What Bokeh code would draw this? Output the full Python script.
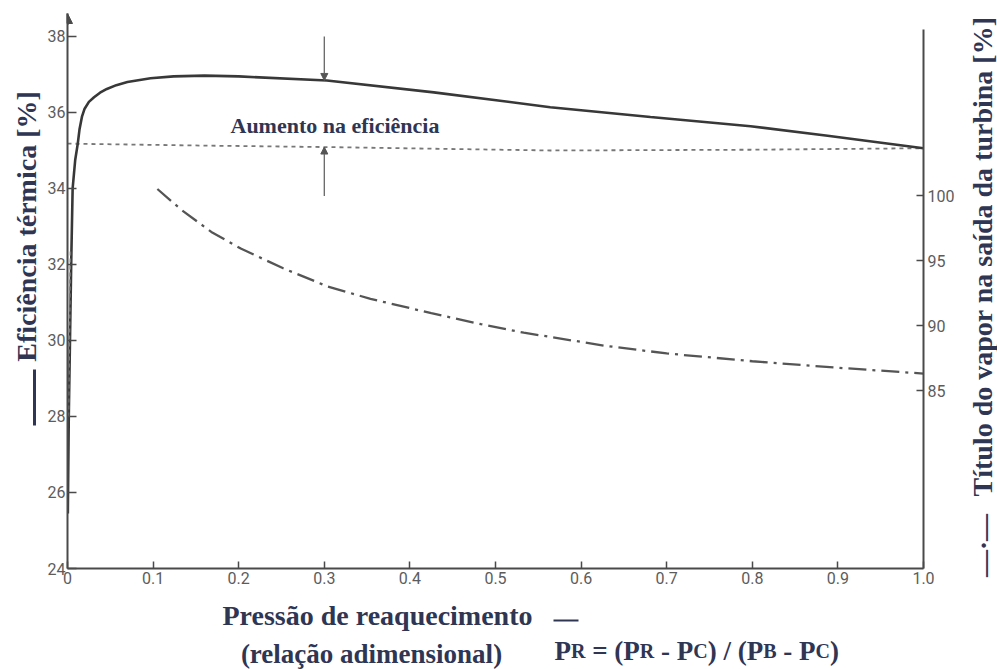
import math
import numpy as np
from bokeh.plotting import figure
from bokeh.layouts import row, column
from bokeh.models import (Range1d, LinearAxis, FixedTicker, CustomJSTickFormatter,
                          Label, Arrow, NormalHead)
from bokeh.core.properties import value
from bokeh.embed import file_html
from bokeh.resources import INLINE

# ---------------- data ----------------
# reheat pressure ratio (x) and thermal efficiency [%] (left axis)
x_eff = [0.0004, 0.0015, 0.0043, 0.0060, 0.009, 0.012, 0.014, 0.017, 0.020, 0.025,
         0.031, 0.038, 0.046, 0.057, 0.070, 0.097, 0.124, 0.160, 0.200, 0.303,
         0.428, 0.564, 0.681, 0.798, 0.888, 1.0]
y_eff = [25.45, 28.0, 32.0, 34.0, 34.75, 35.18, 35.55, 35.9, 36.1, 36.28,
         36.4, 36.52, 36.62, 36.72, 36.8, 36.9, 36.95, 36.97, 36.95, 36.84,
         36.53, 36.14, 35.88, 35.64, 35.39, 35.06]

# efficiency without reheat (dotted reference line)
x_ref = [0.0, 0.156, 0.303, 0.564, 0.798, 1.0]
y_ref = [35.18, 35.13, 35.09, 35.0, 35.02, 35.06]

# steam quality at turbine exit [%] (right axis)
x_qual = [0.105, 0.133, 0.168, 0.203, 0.252, 0.304, 0.354, 0.425, 0.483, 0.533,
          0.627, 0.700, 0.800, 0.900, 1.0]
y_qual = [100.5, 98.9, 97.2, 95.9, 94.4, 93.0, 92.05, 90.95, 90.1, 89.45,
          88.45, 87.85, 87.25, 86.75, 86.3]

# short dashed trace next to the left axis (left-axis units)
x_qual_edge = [0.0012, 0.0035]
y_qual_edge = [28.0, 32.4]

# "Aumento na eficiência" arrows
arrow_x = 0.3
arrow_top = 38.0
arrow_bottom = 33.8

x_ticks = [0, 0.1, 0.2, 0.3, 0.4, 0.5, 0.6, 0.7, 0.8, 0.9, 1.0]
x_tick_labels = ["0", "0.1", "0.2", "0.3", "0.4", "0.5", "0.6", "0.7", "0.8", "0.9", "1.0"]
left_ticks = [24, 26, 28, 30, 32, 34, 36, 38]
right_ticks = [85, 90, 95, 100]

# ---------------- page geometry (pixels) ----------------
W_PAGE, H_PAGE = 997, 669
LEFT_W = 42            # strip holding the left title
RIGHT_X = 961          # strip holding the right title starts here
MAIN_H = 592           # main chart height; text strip below
FX0, FX1 = 67.0, 923.0
FY_TOP, FY_BOT = 13.0, 568.0
Y_TOP_VAL = 38.605
PX_PER_LEFT = (FY_BOT - FY_TOP) / (Y_TOP_VAL - 24.0)
PX_PER_RIGHT = 13.0
R_AT_100 = 195.0


def dx(px):
    return (px - FX0) / (FX1 - FX0)


def dy(py):
    return 24.0 + (FY_BOT - py) / PX_PER_LEFT


r_bot = 100.0 - (FY_BOT - R_AT_100) / PX_PER_RIGHT
r_top = 100.0 + (R_AT_100 - FY_TOP) / PX_PER_RIGHT
r_axis_top = 100.0 + (R_AT_100 - 29.0) / PX_PER_RIGHT

NAVY = "#2f3654"
AX = "#4a4a4a"
TICKFONT = "Roboto"
SERIF = "Liberation Serif"

main_w = RIGHT_X - LEFT_W
p = figure(width=main_w, height=MAIN_H, output_backend="svg", toolbar_location=None,
           x_range=Range1d(0, 1), y_range=Range1d(24, Y_TOP_VAL),
           min_border_left=int(FX0 - LEFT_W), min_border_right=int(RIGHT_X - FX1),
           min_border_top=int(FY_TOP), min_border_bottom=int(MAIN_H - FY_BOT))
p.extra_y_ranges = {"qual": Range1d(r_bot, r_top)}
p.outline_line_color = None
p.background_fill_color = "white"
p.border_fill_color = "white"
p.xgrid.visible = False
p.ygrid.visible = False

xa = p.xaxis[0]
xa.ticker = FixedTicker(ticks=x_ticks)
xa.formatter = CustomJSTickFormatter(
    args=dict(xt=x_ticks, xl=x_tick_labels),
    code="const i = xt.findIndex(t => Math.abs(t - tick) < 1e-9); return i >= 0 ? xl[i] : '';")
ya = p.yaxis[0]
ya.ticker = FixedTicker(ticks=left_ticks)
ra = LinearAxis(y_range_name="qual", ticker=FixedTicker(ticks=right_ticks),
                bounds=(r_bot, r_axis_top))
p.add_layout(ra, "right")

for ax in (xa, ya, ra):
    ax.axis_line_color = AX
    ax.axis_line_width = 2
    ax.major_tick_line_color = AX
    ax.major_tick_line_width = 1.5
    ax.major_tick_out = 0
    ax.minor_tick_in = 0
    ax.minor_tick_out = 0
    ax.major_label_text_font = TICKFONT
    ax.major_label_text_font_size = "16px"
    ax.major_label_text_color = "#5c5c5c"
xa.major_tick_in = 7
xa.major_label_standoff = 3
ya.major_tick_in = 9
ya.major_label_standoff = 2
ra.major_tick_in = 7
ra.major_label_standoff = 4

# curves
p.line(x_ref, y_ref, line_color="#777777", line_width=1.8, line_dash="4 4")
p.line(x_eff, y_eff, line_color="#383838", line_width=2.6)
p.line(x_qual, y_qual, y_range_name="qual", line_color="#555555", line_width=2.3,
       line_dash="18 6 3 6")
p.line(x_qual_edge, y_qual_edge, line_color="#777777", line_width=1.5, line_dash="4 3")

# arrows marking the efficiency gain
eff_at_arrow = float(np.interp(arrow_x, x_eff, y_eff))
ref_at_arrow = float(np.interp(arrow_x, x_ref, y_ref))
for y0, y1 in ((arrow_top, eff_at_arrow), (arrow_bottom, ref_at_arrow)):
    p.add_layout(Arrow(end=NormalHead(size=7, fill_color="#555555", line_color="#555555"),
                       x_start=arrow_x, y_start=y0, x_end=arrow_x, y_end=y1,
                       line_color="#666666", line_width=1.3))
# arrow head on top of the left axis
p.add_layout(Arrow(end=NormalHead(size=10, fill_color=AX, line_color=AX),
                   x_start=0, y_start=Y_TOP_VAL - 0.3, x_end=0, y_end=Y_TOP_VAL,
                   line_color=AX, line_width=2))

p.add_layout(Label(x=dx(230), y=dy(125), text="Aumento na eficiência",
                   text_font=SERIF, text_font_style="bold", text_font_size="22px",
                   text_color=NAVY, text_align="left", text_baseline="middle"))


# ---------------- text strips (coordinates = page pixels) ----------------
def strip(x0, x1, y0, y1, xr=None):
    f = figure(width=int(x1 - x0), height=int(y1 - y0), output_backend="svg",
               toolbar_location=None, x_axis_type=None, y_axis_type=None,
               x_range=Range1d(*(xr or (x0, x1))), y_range=Range1d(y1, y0),
               min_border=0, min_border_left=0, min_border_right=0,
               min_border_top=0, min_border_bottom=0)
    f.outline_line_color = None
    f.background_fill_color = "white"
    f.border_fill_color = "white"
    return f


def txt(f, s, x, y, size, angle=0.0, align="center", baseline="middle"):
    f.text(x=[x], y=[y], text=[s], angle=angle, text_font=value(SERIF),
           text_font_style="bold", text_font_size=f"{size}px", text_color=NAVY,
           text_align=align, text_baseline=baseline)


left = strip(0, LEFT_W, 0, H_PAGE)
txt(left, "Eficiência térmica [%]", 26, 226, 28, angle=math.pi / 2)
# legend key: solid line
left.line(x=[34, 34], y=[369, 425], line_color=NAVY, line_width=3)

right = strip(RIGHT_X, W_PAGE, 0, H_PAGE)
txt(right, "Título do vapor na saída da turbina [%]", 982, 256, 28, angle=math.pi / 2)
txt(right, "—·—", 983, 545, 27, angle=math.pi / 2)

# the column aligns this strip's frame with the chart frame (FX0..FX1)
bottom = strip(LEFT_W, RIGHT_X, MAIN_H, H_PAGE, xr=(FX0, FX1))
txt(bottom, "Pressão de reaquecimento", 377, 615, 28)
txt(bottom, "(relação adimensional)", 371, 653, 27)

# formula  P̄R = (PR - PC) / (PB - PC)   with small-capital subscripts
WID = {"P": 0.611, "R": 0.722, "C": 0.722, "B": 0.667, " ": 0.25, "=": 0.570,
       "(": 0.333, ")": 0.333, "-": 0.333, "/": 0.278}
BIG, SMALL = 27, 20
tokens = [("P", BIG), ("R", SMALL), (" ", BIG), ("=", BIG), (" ", BIG), ("(", BIG),
          ("P", BIG), ("R", SMALL), (" ", BIG), ("-", BIG), (" ", BIG),
          ("P", BIG), ("C", SMALL), (")", BIG), (" ", BIG), ("/", BIG), (" ", BIG),
          ("(", BIG), ("P", BIG), ("B", SMALL), (" ", BIG), ("-", BIG), (" ", BIG),
          ("P", BIG), ("C", SMALL), (")", BIG)]
cur = 554.0
for t, s in tokens:
    if t != " ":
        txt(bottom, t, cur, 650, s, align="left", baseline="alphabetic")
    cur += WID[t] * s
# overbar above the first P_R
bottom.line(x=[553, 578], y=[620, 620], line_color=NAVY, line_width=2)

layout = row(left, column(p, bottom), right)
open("out.html", "w").write(file_html(layout, INLINE))
